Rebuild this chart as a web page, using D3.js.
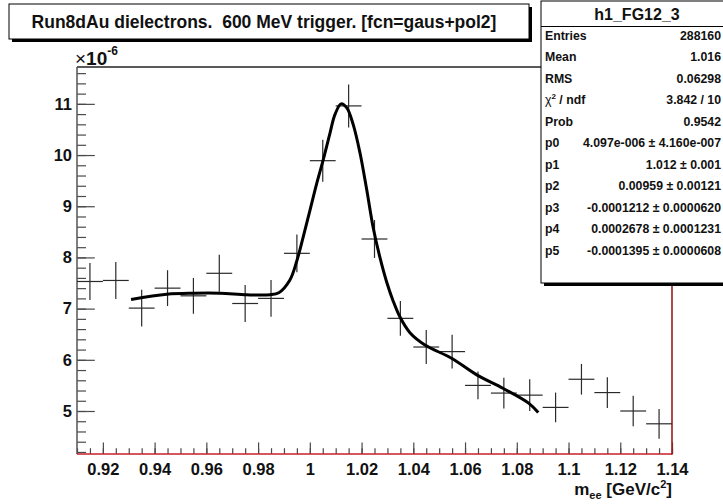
<!DOCTYPE html>
<html><head><meta charset="utf-8">
<script src="https://cdn.jsdelivr.net/npm/d3@7"></script>
<style>
html,body{margin:0;padding:0;background:#fff;}
text{font-family:"Liberation Sans",Arial,Helvetica,sans-serif;}
</style></head>
<body>
<svg id="c" width="723" height="504"></svg>
<script>
// ---------- data ----------
const binCenters = [0.915,0.925,0.935,0.945,0.955,0.965,0.975,0.985,0.995,1.005,1.015,1.025,1.035,1.045,1.055,1.065,1.075,1.085,1.095,1.105,1.115,1.125,1.135];
const counts = [7.53,7.55,7.01,7.40,7.25,7.69,7.10,7.20,8.08,9.89,10.96,8.36,6.81,6.25,6.16,5.50,5.35,5.31,5.07,5.62,5.36,5.00,4.75];
const errors = [0.36,0.36,0.36,0.35,0.35,0.36,0.36,0.36,0.37,0.41,0.42,0.37,0.34,0.33,0.33,0.27,0.30,0.31,0.29,0.30,0.30,0.30,0.29];
const binWidth = 0.01;

const fitX = [0.9309,0.9447,0.955,0.9653,0.9756,0.9846,0.9880,0.9923,0.9949,0.9975,1.0001,1.0027,1.0052,1.0078,1.0097,1.0121,1.0143,1.0168,1.0194,1.0220,1.0245,1.0271,1.0297,1.0322,1.0349,1.0387,1.0445,1.0548,1.0647,1.0748,1.0847,1.0883];
const fitY = [7.18,7.28,7.30,7.30,7.27,7.27,7.31,7.56,7.92,8.41,8.93,9.45,9.91,10.43,10.79,11.0,10.92,10.59,10.04,9.32,8.58,8.00,7.52,7.15,6.83,6.53,6.29,6.03,5.70,5.44,5.15,4.97];

const xTicks = [0.92,0.94,0.96,0.98,1.00,1.02,1.04,1.06,1.08,1.10,1.12,1.14];
const xTickLabels = ["0.92","0.94","0.96","0.98","1","1.02","1.04","1.06","1.08","1.1","1.12","1.14"];
const yTicks = [5,6,7,8,9,10,11];
const yTickLabels = ["5","6","7","8","9","10","11"];

const titleText = "Run8dAu dielectrons.  600 MeV trigger. [fcn=gaus+pol2]";
const statsName = "h1_FG12_3";
const statLabels = ["Entries","Mean","RMS","CHI","Prob","p0","p1","p2","p3","p4","p5"];
const statValues = ["288160","1.016","0.06298","3.842 / 10","0.9542","4.097e-006 \u00b1 4.160e-007","1.012 \u00b1 0.001","0.00959 \u00b1 0.00121","-0.0001212 \u00b1 0.0000620","0.0002678 \u00b1 0.0001231","-0.0001395 \u00b1 0.0000608"];

// ---------- layout ----------
const L = 77, R = 672, T = 67, B = 454;
const svg = d3.select("#c");
svg.append("rect").attr("width",723).attr("height",504).attr("fill","#fff");

const x = d3.scaleLinear().domain([0.91,1.14]).range([L,R]);
const y = d3.scaleLinear().domain([4.16,11.72]).range([B,T]);

// minor ticks
const xMinor = d3.range(0.91,1.1401,0.005).map(v=>+v.toFixed(3));
const yMinor = d3.range(4.2,11.71,0.2).map(v=>+v.toFixed(2));

const gxm = svg.append("g").attr("transform",`translate(0,${B})`)
  .call(d3.axisBottom(x).tickValues(xMinor).tickSize(-5.8).tickFormat(""));
const gym = svg.append("g").attr("transform",`translate(${L},0)`)
  .call(d3.axisLeft(y).tickValues(yMinor).tickSize(-9).tickFormat(""));
const gx = svg.append("g").attr("transform",`translate(0,${B})`)
  .call(d3.axisBottom(x).tickValues(xTicks).tickSize(-11.6).tickPadding(9)
    .tickFormat((d,i)=>xTickLabels[i]));
const gy = svg.append("g").attr("transform",`translate(${L},0)`)
  .call(d3.axisLeft(y).tickValues(yTicks).tickSize(-17.8).tickPadding(5)
    .tickFormat((d,i)=>yTickLabels[i]));
[gxm,gym,gx,gy].forEach(g=>{
  g.select(".domain").remove();
  g.selectAll(".tick line").attr("stroke","#4a4a4a").attr("stroke-width",1.2);
});
[gx,gy].forEach(g=>g.selectAll(".tick text").attr("fill","#111")
  .style("font-size","16.5px").style("font-weight","bold")
  .style("font-family","'Liberation Sans',Arial,sans-serif"));

// frame
svg.append("line").attr("x1",L).attr("x2",R).attr("y1",T).attr("y2",T).attr("stroke","#222").attr("stroke-width",1.3);
svg.append("line").attr("x1",L).attr("x2",L).attr("y1",T).attr("y2",B).attr("stroke","#555").attr("stroke-width",1.5);
svg.append("line").attr("x1",L).attr("x2",R).attr("y1",B).attr("y2",B).attr("stroke","#c8202a").attr("stroke-width",1.6);
svg.append("line").attr("x1",R).attr("x2",R).attr("y1",T).attr("y2",B+0.8).attr("stroke","#9b1b1f").attr("stroke-width",1.6);

// data crosses
const pts = svg.append("g").attr("stroke","#2a2a2a").attr("stroke-width",1.2);
binCenters.forEach((c,i)=>{
  pts.append("line").attr("x1",x(c-binWidth/2)).attr("x2",x(c+binWidth/2))
    .attr("y1",y(counts[i])).attr("y2",y(counts[i]));
  pts.append("line").attr("x1",x(c)).attr("x2",x(c))
    .attr("y1",y(counts[i]-errors[i])).attr("y2",y(counts[i]+errors[i]));
});

// fit curve
const line = d3.line().x(d=>x(d[0])).y(d=>y(d[1])).curve(d3.curveCatmullRom.alpha(0.5));
svg.append("path").datum(fitX.map((v,i)=>[v,fitY[i]]))
  .attr("d",line).attr("fill","none").attr("stroke","#000").attr("stroke-width",3)
  .attr("stroke-linejoin","round");

// x10^-6
const ex = svg.append("text").attr("x",75).attr("y",65).style("font-size","19px").style("font-weight","bold").attr("fill","#111");
ex.append("tspan").text("\u00d7").style("font-weight","normal");
ex.append("tspan").text("10");
ex.append("tspan").attr("dy",-10).style("font-size","12px").text("-6");

// x axis title
const xt = svg.append("text").attr("x",R).attr("y",495).attr("text-anchor","end")
  .style("font-size","17px").style("font-weight","bold").attr("fill","#111");
xt.append("tspan").text("m");
xt.append("tspan").attr("dy",4).style("font-size","11px").text("ee");
xt.append("tspan").attr("dy",-4).text(" [GeV/c");
xt.append("tspan").attr("dy",-7).style("font-size","11px").text("2");
xt.append("tspan").attr("dy",7).text("]");

// title box
svg.append("rect").attr("x",12).attr("y",7).attr("width",520).attr("height",35).attr("fill","#000");
svg.append("rect").attr("x",9).attr("y",4).attr("width",520).attr("height",35).attr("fill","#fff").attr("stroke","#000").attr("stroke-width",1);
svg.append("text").attr("x",264).attr("y",28).attr("text-anchor","middle")
  .style("font-size","17.5px").style("font-weight","bold").style("white-space","pre")
  .attr("xml:space","preserve").attr("fill","#111").text(titleText);

// stats box
svg.append("rect").attr("x",544).attr("y",4).attr("width",200).attr("height",282).attr("fill","#000");
svg.append("rect").attr("x",541).attr("y",1).attr("width",200).attr("height",282).attr("fill","#fff").attr("stroke","#000").attr("stroke-width",1);
svg.append("line").attr("x1",541).attr("x2",723).attr("y1",26.5).attr("y2",26.5).attr("stroke","#000");
svg.append("text").attr("x",637).attr("y",20).attr("text-anchor","middle")
  .style("font-size","16px").style("font-weight","bold").attr("fill","#111").text(statsName);
statLabels.forEach((lab,i)=>{
  const yy = 39.5 + i*21.5;
  const t = svg.append("text").attr("x",545).attr("y",yy)
    .style("font-size","12.3px").style("font-weight","bold").attr("fill","#111");
  if (lab === "CHI") {
    t.append("tspan").text("\u03c7").style("font-weight","normal");
    t.append("tspan").attr("dy",-5).style("font-size","8px").text("2");
    t.append("tspan").attr("dy",5).text(" / ndf");
  } else t.text(lab);
  svg.append("text").attr("x",721).attr("y",yy).attr("text-anchor","end")
    .style("font-size","12.3px").style("font-weight","bold").attr("fill","#111").text(statValues[i]);
});
</script>
</body></html>
